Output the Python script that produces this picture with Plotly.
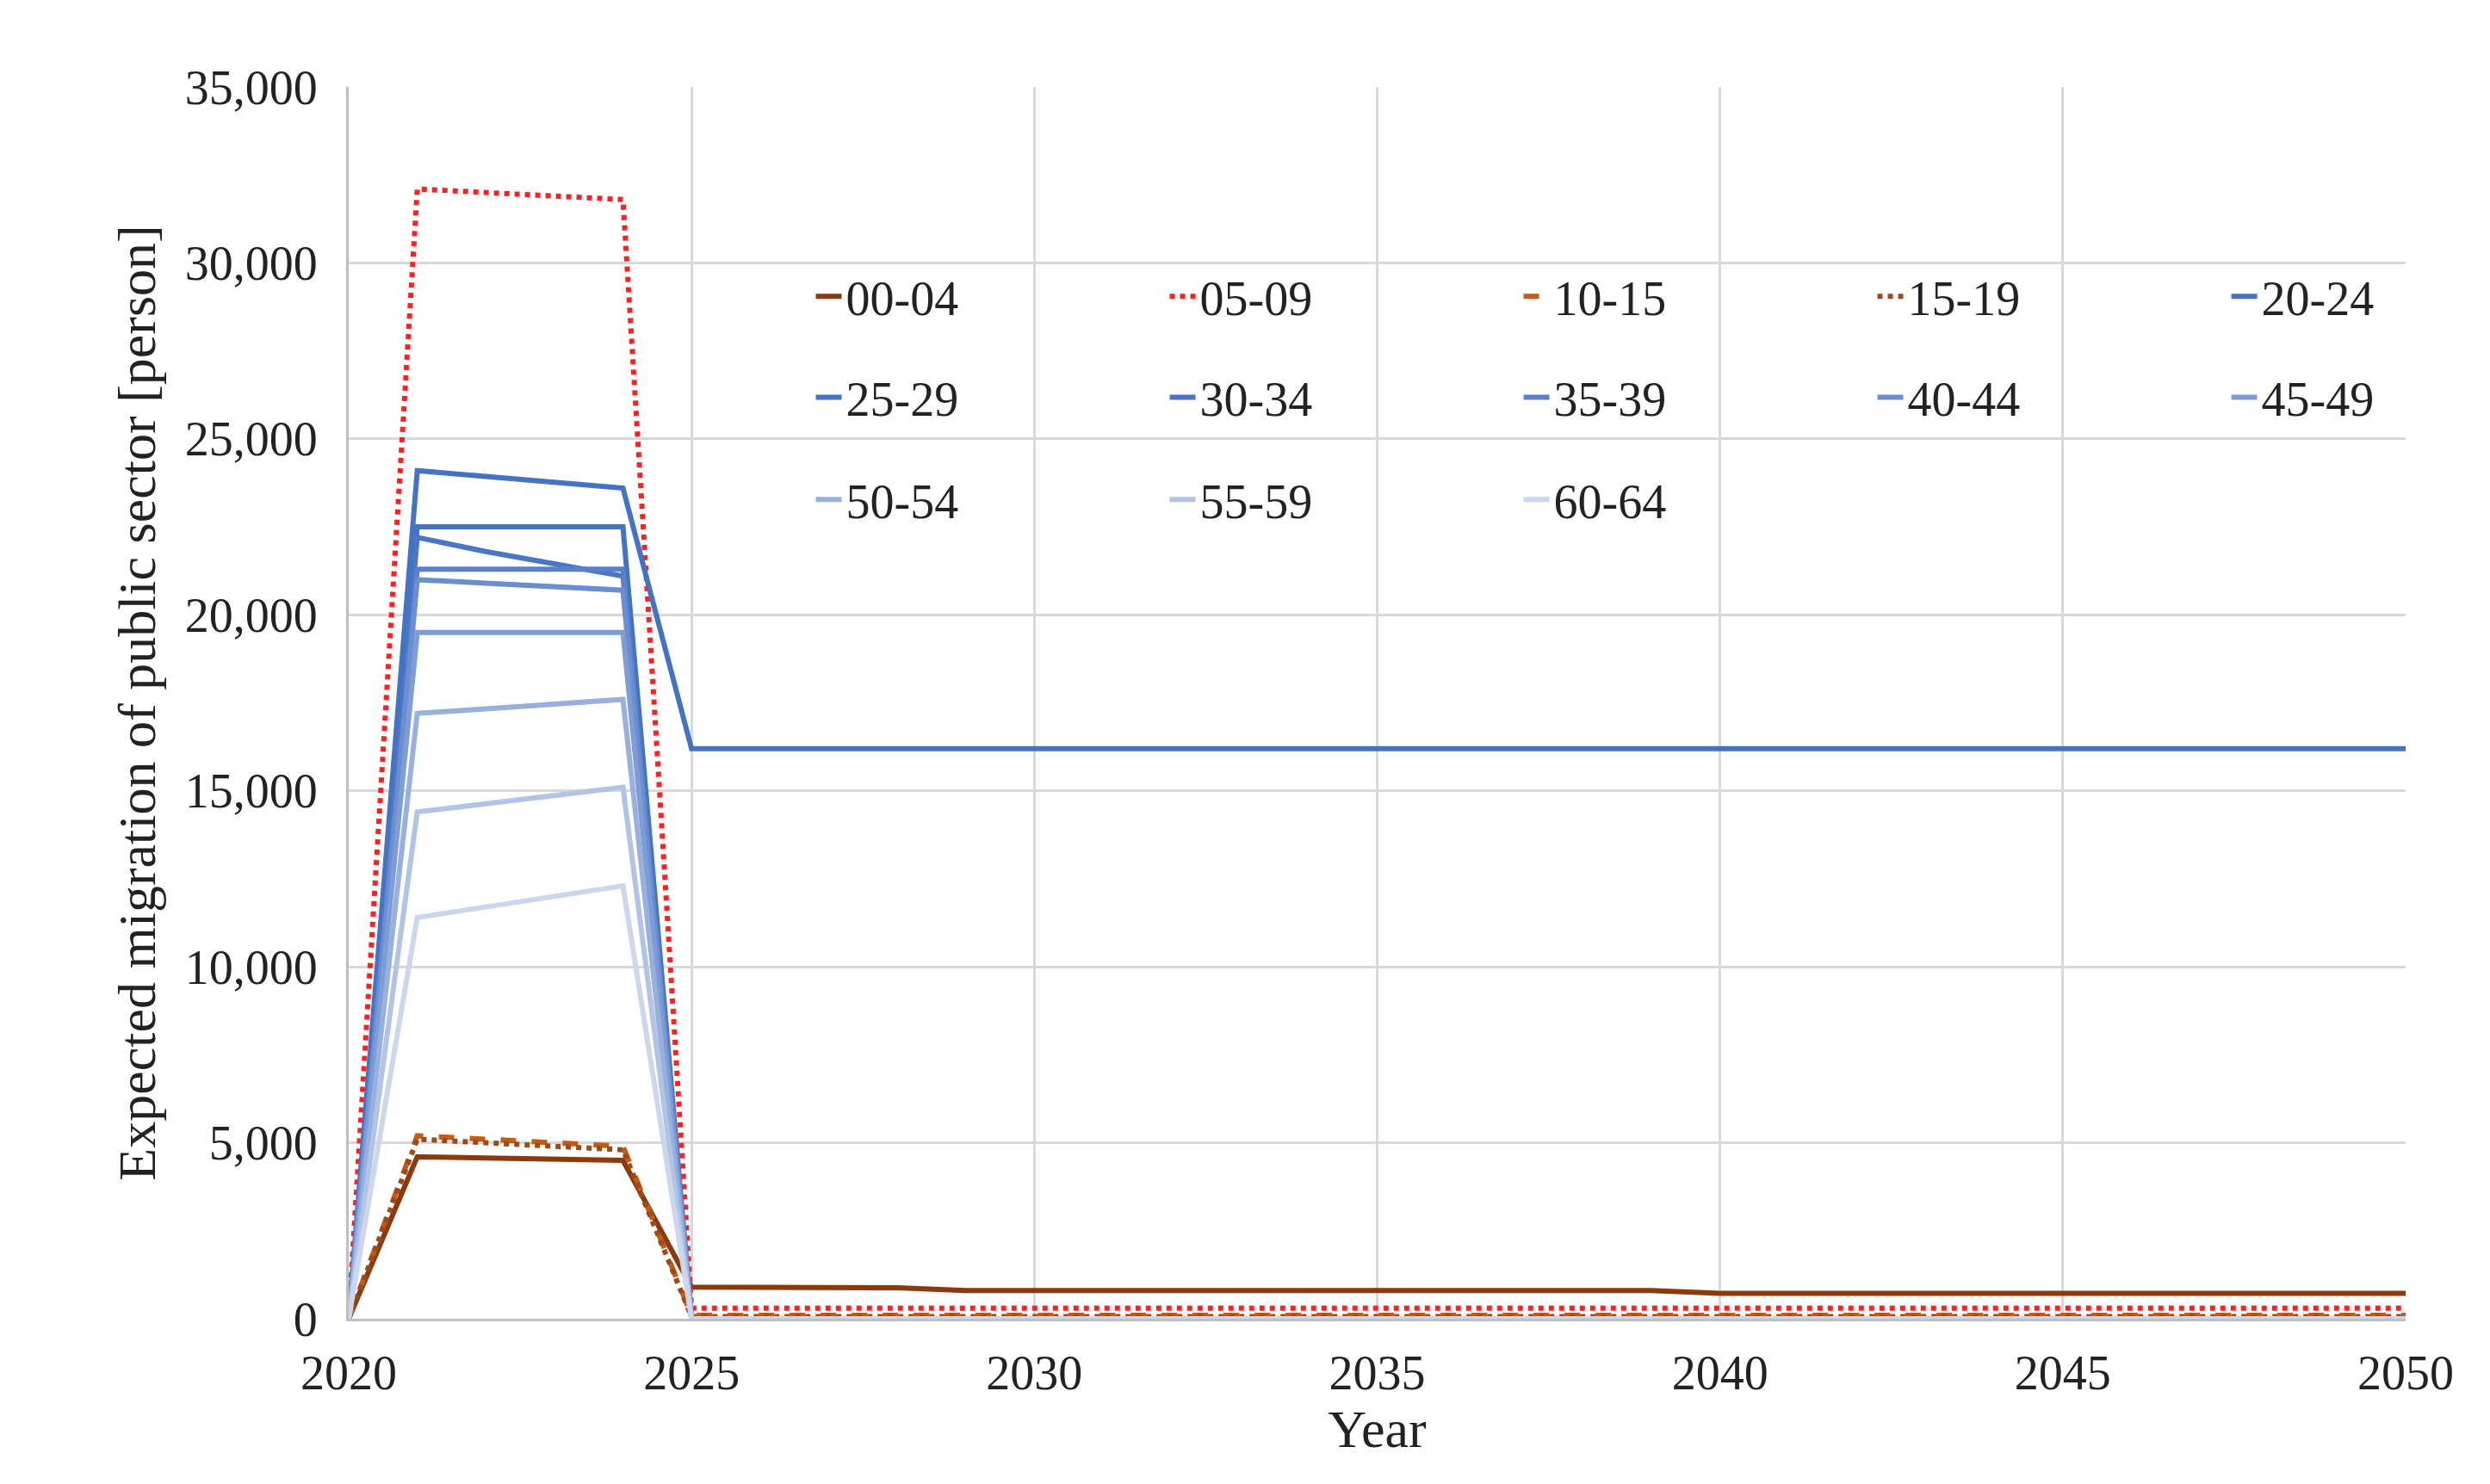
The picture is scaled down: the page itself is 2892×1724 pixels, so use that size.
import plotly.graph_objects as go

years = list(range(2020, 2051))
names = ["00-04", "05-09", "10-15", "15-19", "20-24", "25-29", "30-34", "35-39",
         "40-44", "45-49", "50-54", "55-59", "60-64"]

s_00_04 = [0, 4600, 4570, 4540, 4500] + [900, 900, 900, 880] + [800] * 11 + [720] * 11
s_05_09 = [0, 32100, 32000, 31900, 31800] + [300] * 26
s_10_15 = [0, 5200, 5100, 5000, 4900] + [100] * 26
s_15_19 = [0, 5100, 5000, 4900, 4800] + [60] * 26
s_20_24 = [0, 24100, 23930, 23770, 23600] + [16200] * 26
s_25_29 = [0, 22500, 22500, 22500, 22500] + [0] * 26
s_30_34 = [0, 22200, 21800, 21450, 21100] + [0] * 26
s_35_39 = [0, 21300, 21300, 21300, 21300] + [0] * 26
s_40_44 = [0, 21000, 20900, 20800, 20700] + [0] * 26
s_45_49 = [0, 19500, 19500, 19500, 19500] + [0] * 26
s_50_54 = [0, 17200, 17330, 17470, 17600] + [0] * 26
s_55_59 = [0, 14400, 14630, 14870, 15100] + [0] * 26
s_60_64 = [0, 11400, 11700, 12000, 12300] + [0] * 26

series = [s_00_04, s_05_09, s_10_15, s_15_19, s_20_24, s_25_29, s_30_34, s_35_39,
          s_40_44, s_45_49, s_50_54, s_55_59, s_60_64]

styles = [
    dict(color="#8B3A0E", dash="solid", width=6),
    dict(color="#FF2020", dash="dot", width=6),
    dict(color="#C55A11", dash="dash", width=6),
    dict(color="#9C4A1A", dash="dot", width=6),
    dict(color="#4472C4", dash="solid", width=6),
    dict(color="#4472C4", dash="solid", width=6),
    dict(color="#4A76C6", dash="solid", width=6),
    dict(color="#5981CB", dash="solid", width=6),
    dict(color="#6A8ED0", dash="solid", width=6),
    dict(color="#7E9DD6", dash="solid", width=6),
    dict(color="#98B0DE", dash="solid", width=6),
    dict(color="#B2C4E6", dash="solid", width=6),
    dict(color="#CCD7EE", dash="solid", width=6),
]

legend_ids = ["legend", "legend2", "legend3"]
fig = go.Figure()
for i, (n, s, st) in enumerate(zip(names, series, styles)):
    fig.add_trace(go.Scatter(x=years, y=s, name=n, mode="lines", line=st,
                             legend=legend_ids[min(i // 5, 2)]))

font = "Liberation Serif, Times New Roman, serif"
leg_common = dict(orientation="h", x=0.225, xanchor="left", yanchor="middle",
                  entrywidth=366, entrywidthmode="pixels", bgcolor="rgba(0,0,0,0)",
                  font=dict(size=56), traceorder="normal")
fig.update_layout(
    width=2892, height=1724,
    paper_bgcolor="white", plot_bgcolor="white",
    margin=dict(l=397, r=106, t=93, b=200, autoexpand=False),
    font=dict(family=font, size=56, color="#222"),
    legend=dict(y=0.83, **leg_common),
    legend2=dict(y=0.748, **leg_common),
    legend3=dict(y=0.665, **leg_common),
    xaxis=dict(range=[2020, 2050], tickvals=list(range(2020, 2051, 5)),
               showgrid=True, gridcolor="#D9D9D9", gridwidth=3,
               showline=True, linecolor="#BFBFBF", linewidth=3, zeroline=False,
               ticks="", ticklabelstandoff=12,
               title=dict(text="Year", font=dict(size=62), standoff=0)),
    yaxis=dict(range=[0, 35000], tickvals=list(range(0, 35001, 5000)),
               tickformat=",d", showgrid=True, gridcolor="#D9D9D9", gridwidth=3,
               showline=True, linecolor="#BFBFBF", linewidth=3, zeroline=False,
               ticks="", ticklabelstandoff=22,
               title=dict(text="Expected migration of public sector [person]",
                          font=dict(size=62), standoff=15)),
)
fig.write_html("out.html")
